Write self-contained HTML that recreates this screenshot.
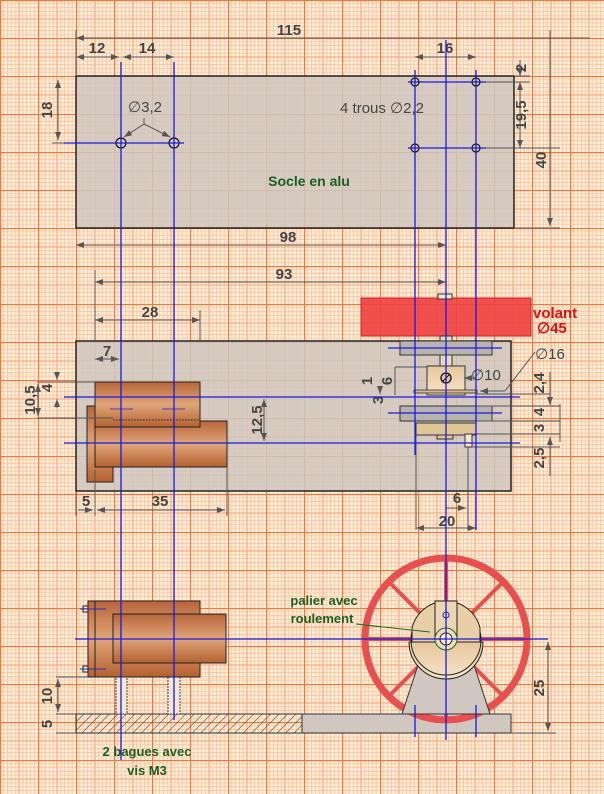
<!DOCTYPE html>
<html><head><meta charset="utf-8"><style>html,body{margin:0;padding:0;background:#fdebd7}svg{display:block}</style></head><body>
<svg width="604" height="794" viewBox="0 0 604 794" xmlns="http://www.w3.org/2000/svg" font-family="Liberation Sans, sans-serif">
<defs>
<pattern id="g" width="38" height="38" patternUnits="userSpaceOnUse">
<rect width="38" height="38" fill="#fdebd7"/>
<path d="M3.8 0V38M7.6 0V38M11.4 0V38M15.2 0V38M22.8 0V38M26.6 0V38M30.4 0V38M34.2 0V38M0 3.8H38M0 7.6H38M0 11.4H38M0 15.2H38M0 22.8H38M0 26.6H38M0 30.4H38M0 34.2H38" stroke="#f7c59c" stroke-width="0.7"/>
<path d="M19 0V38M0 19H38" stroke="#f3a676" stroke-width="1"/>
<path d="M0.5 0V38M0 0.5H38" stroke="#ec7a3c" stroke-width="1.3"/>
</pattern>
<pattern id="h" width="6" height="6" patternUnits="userSpaceOnUse" patternTransform="rotate(45)"><line x1="0" y1="0" x2="0" y2="6" stroke="#333" stroke-width="1"/></pattern>
<linearGradient id="cu" x1="0" y1="0" x2="0" y2="1"><stop offset="0" stop-color="#b8653a"/><stop offset="0.5" stop-color="#e0a57a"/><stop offset="1" stop-color="#b4612f"/></linearGradient>
<linearGradient id="tan" x1="0" y1="0" x2="0" y2="1"><stop offset="0" stop-color="#e6c79e"/><stop offset="1" stop-color="#f6e3c6"/></linearGradient>
<marker id="a" markerWidth="8" markerHeight="6" refX="8" refY="3" orient="auto-start-reverse"><path d="M0 0L8 3L0 6z" fill="#555"/></marker>
</defs>
<rect width="604" height="794" fill="url(#g)"/>

<!-- TOP VIEW -->
<rect x="76" y="76" width="438" height="152" fill="#cfc7c0" fill-opacity="0.85" stroke="#222" stroke-width="1.5"/>
<g stroke="#555" stroke-width="1" fill="none">
<line x1="76" y1="30" x2="76" y2="76"/><line x1="76" y1="38" x2="590" y2="38" marker-start="url(#a)"/>
<line x1="76" y1="57" x2="119" y2="57" marker-start="url(#a)" marker-end="url(#a)"/>
<line x1="123" y1="57" x2="174" y2="57" marker-start="url(#a)" marker-end="url(#a)"/>
<line x1="415" y1="57" x2="476" y2="57" marker-start="url(#a)" marker-end="url(#a)"/>
<line x1="58" y1="80" x2="58" y2="140" marker-start="url(#a)" marker-end="url(#a)"/>
<line x1="52" y1="143" x2="76" y2="143"/>
<line x1="476" y1="82" x2="530" y2="82"/><line x1="476" y1="148" x2="560" y2="148"/>
<line x1="514" y1="76" x2="530" y2="76"/><line x1="514" y1="228" x2="560" y2="228"/>
<line x1="520" y1="60" x2="520" y2="76" marker-end="url(#a)"/>
<line x1="520" y1="82" x2="520" y2="148" marker-start="url(#a)" marker-end="url(#a)"/>
<line x1="550" y1="30" x2="550" y2="226" marker-end="url(#a)"/>
<line x1="76" y1="245" x2="446" y2="245" marker-start="url(#a)" marker-end="url(#a)"/>
<line x1="95" y1="282" x2="446" y2="282" marker-start="url(#a)" marker-end="url(#a)"/>
<line x1="95" y1="270" x2="95" y2="340"/><line x1="200" y1="310" x2="200" y2="340"/>
<line x1="95" y1="320" x2="200" y2="320" marker-start="url(#a)" marker-end="url(#a)"/>
<line x1="144" y1="124" x2="124" y2="137" marker-end="url(#a)"/><line x1="144" y1="124" x2="170" y2="137" marker-end="url(#a)"/>
<line x1="144" y1="118" x2="144" y2="124"/>
</g>
<g fill="#444" font-weight="bold" font-size="15" text-anchor="middle">
<text x="289" y="35">115</text><text x="97" y="53">12</text><text x="147" y="53">14</text><text x="445" y="53">16</text>
<text x="52" y="110" transform="rotate(-90 52 110)">18</text>
<text x="526" y="68" transform="rotate(-90 526 68)">2</text>
<text x="526" y="115" transform="rotate(-90 526 115)">19,5</text>
<text x="546" y="160" transform="rotate(-90 546 160)">40</text>
<text x="288" y="242">98</text><text x="284" y="279">93</text><text x="150" y="317">28</text>
<text x="145" y="112" font-weight="normal">∅3,2</text>
<text x="382" y="113" font-weight="normal">4 trous ∅2,2</text>
</g>
<text x="309" y="186" fill="#1b5e20" font-weight="bold" font-size="14" text-anchor="middle">Socle en alu</text>
<g fill="none" stroke="#111" stroke-width="1.2">
<circle cx="121" cy="143" r="5"/><circle cx="174" cy="143" r="5"/>
<circle cx="415" cy="82" r="4"/><circle cx="476" cy="82" r="4"/><circle cx="415" cy="148" r="4"/><circle cx="476" cy="148" r="4"/>
</g>

<!-- MIDDLE VIEW -->
<rect x="76" y="341" width="435" height="150" fill="#cfc7c0" fill-opacity="0.85" stroke="#222" stroke-width="1.5"/>
<rect x="361" y="298" width="170" height="38" fill="#ee4040" fill-opacity="0.9" stroke="#d02020"/>
<rect x="438" y="294" width="14" height="5" fill="#f5e6d0" stroke="#333"/>
<rect x="440" y="336" width="12" height="6" fill="#e8d8c0" stroke="#333"/>
<rect x="400" y="341" width="92" height="14" fill="#b9b3ae" stroke="#333"/>
<rect x="440" y="355" width="12" height="12" fill="#e8d8c0" stroke="#333"/>
<rect x="427" y="366" width="38" height="29" fill="url(#tan)" stroke="#333"/>
<rect x="414" y="390" width="63" height="3" fill="#d8b88a" stroke="#333" stroke-width="0.8"/>
<rect x="400" y="406" width="92" height="15" fill="#b9b3ae" stroke="#333"/>
<rect x="416" y="423" width="60" height="12" fill="#e0c596" stroke="#333"/>
<rect x="437" y="435" width="16" height="4" fill="#e0c596" stroke="#333"/>
<rect x="465" y="434" width="7" height="13" fill="#f5e6d0" stroke="#333"/>
<circle cx="446" cy="378" r="5" fill="#e6c79e" stroke="#111" stroke-width="1.3"/><line x1="442" y1="382" x2="450" y2="374" stroke="#111"/>
<rect x="87" y="406" width="26" height="76" fill="url(#cu)" stroke="#222"/>
<rect x="95" y="421" width="132" height="46" fill="url(#cu)" stroke="#222"/>
<rect x="95" y="382" width="105" height="45" fill="url(#cu)" stroke="#222"/>
<line x1="113" y1="420" x2="200" y2="420" stroke="#222" stroke-dasharray="1.5,1.5"/>
<line x1="110" y1="409" x2="133" y2="409" stroke="#5040b0"/><line x1="162" y1="409" x2="185" y2="409" stroke="#5040b0"/>
<g stroke="#555" stroke-width="1" fill="none">
<line x1="95" y1="359" x2="119" y2="359" marker-start="url(#a)" marker-end="url(#a)"/>
<line x1="37" y1="382" x2="95" y2="382"/><line x1="37" y1="418" x2="113" y2="418"/>
<line x1="38" y1="384" x2="38" y2="416" marker-start="url(#a)" marker-end="url(#a)"/>
<line x1="57" y1="372" x2="57" y2="380" marker-end="url(#a)"/><line x1="57" y1="408" x2="57" y2="399" marker-end="url(#a)"/>
<line x1="264" y1="399" x2="264" y2="441" marker-start="url(#a)" marker-end="url(#a)"/>
<line x1="76" y1="492" x2="76" y2="516"/><line x1="95" y1="470" x2="95" y2="516"/><line x1="227" y1="467" x2="227" y2="516"/>
<line x1="78" y1="510" x2="93" y2="510" marker-end="url(#a)"/>
<line x1="97" y1="510" x2="225" y2="510" marker-start="url(#a)" marker-end="url(#a)"/>
<line x1="468" y1="447" x2="468" y2="530"/>
<line x1="446" y1="508" x2="466" y2="508" marker-end="url(#a)"/>
<line x1="416" y1="435" x2="416" y2="530"/><line x1="416" y1="528" x2="476" y2="528" marker-start="url(#a)" marker-end="url(#a)"/>
<line x1="464" y1="378" x2="474" y2="378" marker-start="url(#a)"/>
<line x1="480" y1="391" x2="505" y2="391" marker-start="url(#a)"/><line x1="505" y1="391" x2="535" y2="352"/>
<line x1="395" y1="367" x2="395" y2="395"/><line x1="395" y1="367" x2="427" y2="367"/>
<line x1="380" y1="388" x2="380" y2="394" marker-end="url(#a)"/>
<line x1="477" y1="394" x2="550" y2="394"/><line x1="477" y1="406" x2="560" y2="406"/><line x1="477" y1="421" x2="560" y2="421"/>
<line x1="550" y1="372" x2="550" y2="405" marker-end="url(#a)"/>
<line x1="560" y1="404" x2="560" y2="442"/>
<line x1="472" y1="434" x2="560" y2="434"/><line x1="472" y1="447" x2="560" y2="447"/>
<line x1="550" y1="437" x2="550" y2="476" marker-start="url(#a)"/>
</g>
<g fill="#444" font-weight="bold" font-size="15" text-anchor="middle">
<text x="107" y="356">7</text>
<text x="35" y="400" transform="rotate(-90 35 400)">10,5</text>
<text x="52" y="388" transform="rotate(-90 52 388)">4</text>
<text x="262" y="420" transform="rotate(-90 262 420)">12,5</text>
<text x="86" y="506">5</text><text x="160" y="506">35</text>
<text x="457" y="503">6</text><text x="447" y="526">20</text>
<text x="486" y="380" font-weight="normal">∅10</text>
<text x="550" y="359" font-weight="normal">∅16</text>
<text x="372" y="381" transform="rotate(-90 372 381)">1</text>
<text x="392" y="381" transform="rotate(-90 392 381)">6</text>
<text x="383" y="400" transform="rotate(-90 383 400)">3</text>
<text x="544" y="383" transform="rotate(-90 544 383)">2,4</text>
<text x="544" y="412" transform="rotate(-90 544 412)">4</text>
<text x="544" y="428" transform="rotate(-90 544 428)">3</text>
<text x="544" y="458" transform="rotate(-90 544 458)">2,5</text>
</g>
<text x="533" y="318" fill="#e01010" font-weight="bold" font-size="15">volant</text>
<text x="537" y="333" fill="#e01010" font-weight="bold" font-size="15">∅45</text>

<!-- BOTTOM VIEW -->
<rect x="76" y="714" width="226" height="19" fill="url(#h)" stroke="#333"/>
<path d="M302 714H511V733H302z" fill="#cfc7c0" stroke="#333"/>
<rect x="116" y="677" width="11" height="37" fill="#f4e8d8" stroke="#444" stroke-dasharray="2,1"/>
<rect x="168" y="677" width="12" height="37" fill="#f4e8d8" stroke="#444" stroke-dasharray="2,1"/>
<rect x="88" y="601" width="112" height="76" fill="url(#cu)" stroke="#222"/>
<rect x="113" y="614" width="113" height="49" fill="url(#cu)" stroke="#222"/>
<line x1="95" y1="601" x2="95" y2="677" stroke="#222"/>
<rect x="83" y="606" width="5" height="6" fill="none" stroke="#222"/><rect x="83" y="666" width="5" height="6" fill="none" stroke="#222"/>
<line x1="80" y1="609" x2="106" y2="609" stroke="#2030c0"/><line x1="80" y1="669" x2="106" y2="669" stroke="#2030c0"/>
<circle cx="446" cy="639" r="81" fill="none" stroke="#e85050" stroke-width="7"/>
<g stroke="#e85050" stroke-width="4">
<line x1="366" y1="639" x2="526" y2="639"/><line x1="446" y1="559" x2="446" y2="719"/>
<line x1="389" y1="582" x2="503" y2="696"/><line x1="503" y1="582" x2="389" y2="696"/>
</g>
<path d="M418 665L474 665L490 714L402 714Z" fill="#cfc7c0" stroke="#333"/>
<path d="M409 642A37 37 0 0 0 483 642Z" fill="url(#tan)" stroke="#222"/>
<circle cx="446" cy="640" r="35" fill="none" stroke="#222"/>
<path d="M412 628A35 35 0 0 1 480 628L480 642L412 642Z" fill="#e9cfa8" stroke="#222"/>
<rect x="435" y="601" width="22" height="38" fill="#ecd6b2" stroke="#222"/>
<circle cx="446" cy="639" r="11" fill="#f0dcba" stroke="#1b6e20"/><circle cx="446" cy="639" r="6" fill="#fff6e6" stroke="#222"/>
<circle cx="446" cy="615" r="3" fill="none" stroke="#2030c0"/>
<line x1="356" y1="624" x2="430" y2="632" stroke="#1b6e20"/>
<g stroke="#555" fill="none">
<line x1="56" y1="677" x2="88" y2="677"/><line x1="56" y1="714" x2="76" y2="714"/><line x1="56" y1="733" x2="76" y2="733"/>
<line x1="58" y1="679" x2="58" y2="712" marker-start="url(#a)" marker-end="url(#a)"/>
<line x1="548" y1="642" x2="548" y2="731" marker-start="url(#a)" marker-end="url(#a)"/>
<line x1="511" y1="733" x2="556" y2="733"/>
</g>
<g fill="#444" font-weight="bold" font-size="15" text-anchor="middle">
<text x="52" y="696" transform="rotate(-90 52 696)">10</text>
<text x="52" y="724" transform="rotate(-90 52 724)">5</text>
<text x="544" y="688" transform="rotate(-90 544 688)">25</text>
</g>
<g fill="#1b5e20" font-weight="bold" font-size="13" text-anchor="middle">
<text x="324" y="605">palier avec</text><text x="322" y="623">roulement</text>
<text x="147" y="756">2 bagues avec</text><text x="147" y="775">vis M3</text>
</g>

<!-- BLUE CENTERLINES -->
<g stroke="#1a1ae0" stroke-width="1.3">
<line x1="121" y1="62" x2="121" y2="760"/><line x1="174" y1="62" x2="174" y2="720"/>
<line x1="446" y1="40" x2="446" y2="740"/>
<line x1="415" y1="70" x2="415" y2="455"/><line x1="476" y1="70" x2="476" y2="530"/>
<line x1="64" y1="143" x2="184" y2="143"/><line x1="408" y1="82" x2="486" y2="82"/><line x1="408" y1="148" x2="486" y2="148"/>
<line x1="64" y1="397" x2="520" y2="397"/><line x1="64" y1="443" x2="520" y2="443"/>
<line x1="388" y1="348" x2="502" y2="348"/><line x1="388" y1="413" x2="502" y2="413"/>
<line x1="75" y1="639" x2="548" y2="639"/>
<line x1="415" y1="705" x2="415" y2="737"/><line x1="476" y1="705" x2="476" y2="737"/>
</g>
</svg>
</body></html>
